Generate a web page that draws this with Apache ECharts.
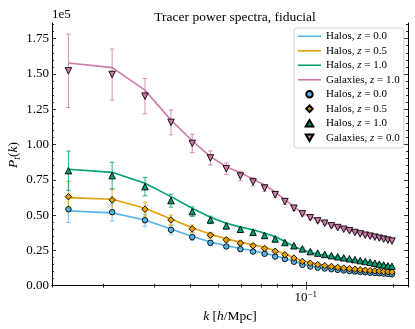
<!DOCTYPE html>
<html><head><meta charset="utf-8">
<script src="https://cdn.jsdelivr.net/npm/echarts@6/dist/echarts.min.js"></script>
<style>html,body{margin:0;padding:0;background:#fff}#c{width:415px;height:329px}</style>
</head><body><div id="c"></div>
<script>
// ---- data ----
const k = [0.0152,0.0215,0.0279,0.0343,0.0406,0.0469,0.0532,0.0595,0.0658,0.0721,0.0784,0.0847,0.0910,0.0973,0.1036,0.1099,0.1162,0.1225,0.1288,0.1351,0.1414,0.1477,0.1540,0.1603,0.1666,0.1729,0.1792,0.1855,0.1918,0.1981];

// model lines
const lineHaloZ0 = [53000,51600,46600,40100,34800,30900,28300,26400,24700,23100,21200,19300,17300,15300,14000,13100,12400,11900,11400,11000,10600,10300,10000,9700,9400,9200,9000,8800,8500,8300];
const lineHaloZ05 = [62400,61300,54900,47300,41000,36500,33200,30900,29000,27100,25000,22400,20000,17600,16300,15300,14500,13900,13300,12800,12400,12000,11600,11300,11000,10800,10600,10400,10200,10000];
const lineHaloZ1 = [82500,80300,72600,63100,54900,48500,44300,41500,39600,37200,34900,31300,27800,25400,23500,22400,21500,20700,20000,19400,18800,18200,17600,17000,16500,16000,15500,15000,14600,14200];
const lineGalZ1 = [157800,154500,138500,117300,102700,91400,84300,80100,75400,71400,66500,60800,56000,51400,49000,46600,44800,43000,41700,40500,39400,38200,37200,36300,35500,34800,34100,33400,32700,32000];

// measured points
const ptHaloZ0 = [54200,52100,46400,39600,34400,30400,27800,25900,24200,22600,20700,18900,17000,14800,13600,12800,12200,11700,11200,10800,10400,10100,9800,9500,9200,9000,8800,8600,8300,8100];
const ptHaloZ05 = [63100,60800,54200,46600,40300,35800,32500,30200,28300,26400,24400,21900,19600,17200,16000,15000,14200,13600,13000,12500,12100,11700,11300,11000,10700,10500,10300,10100,9900,9700];
const ptHaloZ1 = [81500,78000,70200,60300,52500,46600,42400,40000,37900,35600,33100,30600,28300,26100,24200,23100,22200,21300,20500,19800,19100,18500,17800,17200,16600,16000,15300,14700,14100,13800];
const ptGalZ0 = [152200,149600,134300,115700,100800,90500,82900,77700,73500,69200,64500,59600,54900,50900,48100,45900,44300,42400,41200,40000,38900,37700,36700,35800,35100,34400,33700,33000,32300,31600];

// error-bar half widths
const errHaloZ0 = [9300,6300,4300,3000,2200,1700,1360,1140,970,810,680,590,490,400,340,310,270,250,220,210,190,180,170,150,150,140,130,120,120,110];
const errHaloZ05 = [10800,7400,5000,3500,2600,2000,1600,1330,1130,950,800,680,570,460,400,360,310,290,260,240,220,210,190,180,170,160,150,140,140,130];
const errHaloZ1 = [13900,9400,6500,4600,3400,2600,2100,1760,1500,1280,1090,950,820,700,600,550,490,450,410,380,340,330,300,280,270,240,230,210,200,180];
const errGalZ0 = [26000,18100,12500,8800,6500,5000,4100,3400,2900,2500,2100,1850,1600,1370,1200,1100,970,890,820,760,700,680,620,570,560,520,500,460,450,410];

// axis ticks
const xMajorTicks = [0.1];
const xMinorTicks = [0.02,0.03,0.04,0.05,0.06,0.07,0.08,0.09,0.2];
const yMajorTicks = [0,25000,50000,75000,100000,125000,150000,175000];
const yMinorTicks = [0,5000,10000,15000,20000,30000,35000,40000,45000,55000,60000,65000,70000,80000,85000,90000,95000,105000,110000,115000,120000,130000,135000,140000,145000,155000,160000,165000,170000,180000,185000];

const legendLabels = ['Halos, z = 0.0','Halos, z = 0.5','Halos, z = 1.0','Galaxies, z = 1.0','Halos, z = 0.0','Halos, z = 0.5','Halos, z = 1.0','Galaxies, z = 0.0'];
const titleText = 'Tracer power spectra, fiducial';

// ---- styling ----
const F = '"Liberation Serif","DejaVu Serif",serif';
const C = {blue:'#56B4E9', orange:'#E69F00', green:'#009E73', pink:'#CC79A7'};
const X_MIN = 0.01334, X_MAX = 0.2250, Y_MIN = -900, Y_MAX = 186100;

const pairs = (ys) => k.map((x, i) => [x, ys[i]]);
const errs = (ys, es) => k.map((x, i) => [x, ys[i] - es[i], ys[i] + es[i]]);

const names = ['L0','L1','L2','L3','P0','P1','P2','P3'];
const LINE_ICON = 'path://M0,0H46V3.2H0Z';
const DOWN_TRI = 'path://M0,0L10,0L5,8.66Z';
const UP_TRI = 'path://M5,0L10,8.66L0,8.66Z';
const DIAMOND = 'path://M5,0L10,5L5,10L0,5Z';

function lineSeries(name, ys, color) {
  return {name, type:'line', data:pairs(ys), xAxisIndex:0, yAxisIndex:0, symbol:'none', showSymbol:false,
    lineStyle:{color, width:1.6}, itemStyle:{color}, z:2, silent:true, animation:false};
}
function errSeries(ys, es, color) {
  return {type:'custom', data:errs(ys, es), xAxisIndex:0, yAxisIndex:0, z:3, silent:true, animation:false,
    encode:{x:0, y:[1,2]},
    renderItem(params, api) {
      const x = api.value(0);
      const p1 = api.coord([x, api.value(2)]);
      const p2 = api.coord([x, api.value(1)]);
      const cw = 2.3;
      const st = {stroke:color, lineWidth:1.1, opacity:0.75};
      return {type:'group', children:[
        {type:'line', shape:{x1:p1[0], y1:p1[1], x2:p2[0], y2:p2[1]}, style:st},
        {type:'line', shape:{x1:p1[0]-cw, y1:p1[1], x2:p1[0]+cw, y2:p1[1]}, style:st},
        {type:'line', shape:{x1:p2[0]-cw, y1:p2[1], x2:p2[0]+cw, y2:p2[1]}, style:st}
      ]};
    }};
}
function ptSeries(name, ys, color, symbol, size, rot) {
  return {name, type:'scatter', data:pairs(ys), xAxisIndex:0, yAxisIndex:0, symbol, symbolSize:size, symbolRotate:rot||0,
    itemStyle:{color, borderColor:'#000', borderWidth:0.9, opacity:1}, z:4, silent:true, animation:false};
}

const tickBase = (major, vals) => ({
  show: true, inside: true, length: major ? 4 : 2, customValues: vals,
  lineStyle: {color:'#000', width: 0.8}
});

function xAxisDef(position, major, withLine, withLabel) {
  const ax = {type:'log', logBase:10, min:X_MIN, max:X_MAX, position,
    axisLine:{show:withLine, lineStyle:{color:'#000', width:1}},
    axisTick: tickBase(major, major ? xMajorTicks : xMinorTicks),
    axisLabel:{show:false}, splitLine:{show:false}, minorTick:{show:false}};
  if (withLabel) {
    ax.axisLabel = {show:true, customValues:xMajorTicks, margin:3, color:'#000',
      formatter: v => '{a|10}{s|\u22121}',
      rich:{a:{fontFamily:F, fontSize:13, lineHeight:16, color:'#000'},
            s:{fontFamily:F, fontSize:9, lineHeight:10, verticalAlign:'top', color:'#000'}}};
    ax.name = '{i|k}{n| [}{i|h}{n|/Mpc]}';
    ax.nameLocation = 'middle';
    ax.nameGap = 20;
    ax.nameTextStyle = {rich:{i:{fontFamily:F, fontSize:13.5, fontStyle:'italic', lineHeight:16, color:'#000'},
                              n:{fontFamily:F, fontSize:13.5, lineHeight:16, color:'#000'}}};
  }
  return ax;
}
function yAxisDef(position, major, withLine, which) {
  const ax = {type:'value', min:Y_MIN, max:Y_MAX, position,
    axisLine:{show:withLine, lineStyle:{color:'#000', width:1}},
    axisTick: tickBase(major, major ? yMajorTicks : yMinorTicks),
    axisLabel:{show:false}, splitLine:{show:false}, minorTick:{show:false}};
  if (which === 'labels') {
    ax.axisLabel = {show:true, customValues:yMajorTicks, margin:3, color:'#000', fontFamily:F, fontSize:13,
      formatter: v => (v / 1e5).toFixed(2)};
    ax.name = '1e5';
    ax.nameLocation = 'end';
    ax.nameGap = 8;
    ax.nameTextStyle = {fontFamily:F, fontSize:13, color:'#000', align:'left', verticalAlign:'middle'};
  }
  if (which === 'ylabel') {
    ax.name = '{i|P}{s|t}{n|(}{i|k}{n|)}';
    ax.nameLocation = 'middle';
    ax.nameGap = 30;
    ax.nameRotate = 90;
    ax.nameTextStyle = {rich:{
      i:{fontFamily:F, fontSize:13.5, fontStyle:'italic', lineHeight:18, color:'#000'},
      n:{fontFamily:F, fontSize:13.5, lineHeight:18, color:'#000'},
      s:{fontFamily:F, fontSize:9.5, fontStyle:'italic', lineHeight:11, verticalAlign:'bottom', color:'#000'}}};
  }
  return ax;
}

const chart = echarts.init(document.getElementById('c'), null, {renderer:'canvas'});
const option = {
  animation:false,
  backgroundColor:'#fff',
  title:{text:titleText, left:230, top:5, textAlign:'center',
    textStyle:{fontFamily:F, fontSize:13.5, fontWeight:'normal', color:'#000'}},
  grid:{left:52, right:7, top:23, bottom:42, containLabel:false, outerBoundsMode:'none'},
  xAxis:[
    xAxisDef('bottom', true, true, true),
    xAxisDef('bottom', false, false, false),
    xAxisDef('top', true, true, false),
    xAxisDef('top', false, false, false)
  ],
  yAxis:[
    yAxisDef('left', true, true, 'labels'),
    yAxisDef('left', false, false, 'ylabel'),
    yAxisDef('right', true, true, null),
    yAxisDef('right', false, false, null)
  ],
  legend:{
    orient:'vertical', left:294, top:28, itemWidth:23, itemHeight:6.5, itemGap:0,
    padding:[1,4,3,4], borderColor:'#d4d4d4', borderWidth:1, borderRadius:3,
    backgroundColor:'rgba(255,255,255,0.85)', selectedMode:false, symbolKeepAspect:true,
    data:[
      {name:'L0', icon:LINE_ICON}, {name:'L1', icon:LINE_ICON}, {name:'L2', icon:LINE_ICON}, {name:'L3', icon:LINE_ICON},
      {name:'P0', icon:'circle'}, {name:'P1', icon:DIAMOND}, {name:'P2', icon:UP_TRI}, {name:'P3', icon:DOWN_TRI}
    ],
    formatter: name => {
      const lab = legendLabels[names.indexOf(name)];
      const parts = lab.split('z');
      return '{n|' + parts[0] + '}{i|z}{n|' + parts[1] + '}';
    },
    textStyle:{fontFamily:F, fontSize:11, lineHeight:14.5, color:'#000',
      rich:{n:{fontFamily:F, fontSize:11, lineHeight:14.5, color:'#000'},
            i:{fontFamily:F, fontSize:11, fontStyle:'italic', lineHeight:14.5, color:'#000'}}}
  },
  series:[
    lineSeries('L0', lineHaloZ0, C.blue),
    lineSeries('L1', lineHaloZ05, C.orange),
    lineSeries('L2', lineHaloZ1, C.green),
    lineSeries('L3', lineGalZ1, C.pink),
    errSeries(ptHaloZ0, errHaloZ0, C.blue),
    errSeries(ptHaloZ05, errHaloZ05, C.orange),
    errSeries(ptHaloZ1, errHaloZ1, C.green),
    errSeries(ptGalZ0, errGalZ0, C.pink),
    ptSeries('P0', ptHaloZ0, C.blue, 'circle', 5.5),
    ptSeries('P1', ptHaloZ05, C.orange, 'diamond', 6.5),
    ptSeries('P2', ptHaloZ1, C.green, 'triangle', 6.5),
    ptSeries('P3', ptGalZ0, C.pink, 'triangle', 6.5, 180)
  ]
};
chart.setOption(option);
</script></body></html>
